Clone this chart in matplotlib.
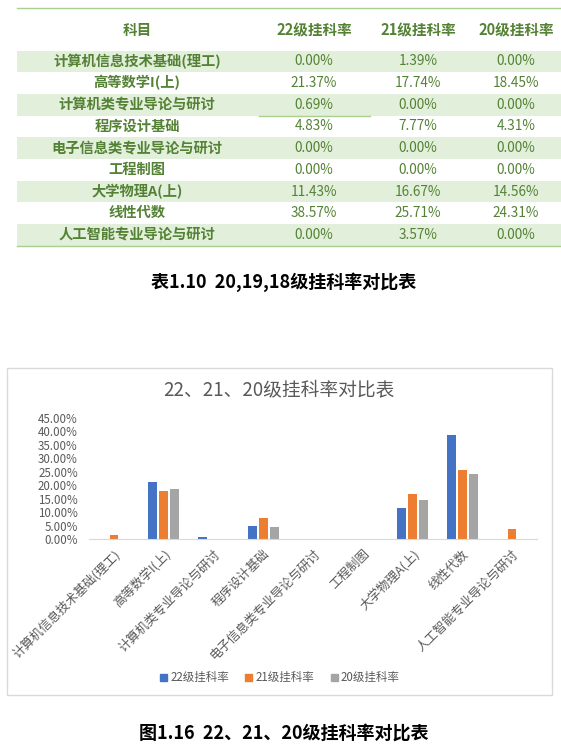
import numpy as np
import matplotlib
matplotlib.use('Agg')
import matplotlib.pyplot as plt
from matplotlib.patches import Rectangle, Patch

plt.rcParams['font.family'] = ['Noto Sans CJK SC', 'DejaVu Sans']

# data
subjects = ['计算机信息技术基础(理工)', '高等数学I(上)', '计算机类专业导论与研讨', '程序设计基础',
            '电子信息类专业导论与研讨', '工程制图', '大学物理A(上)', '线性代数', '人工智能专业导论与研讨']
rate22 = [0.00, 21.37, 0.69, 4.83, 0.00, 0.00, 11.43, 38.57, 0.00]
rate21 = [1.39, 17.74, 0.00, 7.77, 0.00, 0.00, 16.67, 25.71, 3.57]
rate20 = [0.00, 18.45, 0.00, 4.31, 0.00, 0.00, 14.56, 24.31, 0.00]
series_names = ['22级挂科率', '21级挂科率', '20级挂科率']
yticks = [0, 5, 10, 15, 20, 25, 30, 35, 40, 45]

W, H = 561, 751
fig = plt.figure(figsize=(W / 100, H / 100), dpi=100)

# overlay in pixel coordinates (y down)
bg = fig.add_axes([0, 0, 1, 1])
bg.set_xlim(0, W)
bg.set_ylim(H, 0)
bg.axis('off')

green = '#548235'
line_green = '#A9D08E'
band = '#E2EFDA'
col_x = [137, 314, 418, 516]
row_top = 50.5
row_h = 21.7

bg.plot([17, W], [8, 8], color=line_green, lw=1)
bg.text(col_x[0], 30, '科目', ha='center', va='center', fontsize=10.5, fontweight='bold', color=green)
for j, name in enumerate(series_names):
    bg.text(col_x[j + 1], 30, name, ha='center', va='center', fontsize=10.5, fontweight='bold', color=green)

for i, subj in enumerate(subjects):
    y0 = row_top + i * row_h
    if i % 2 == 0:
        bg.add_patch(Rectangle((17, y0), W - 17, row_h, color=band, lw=0))
    yc = y0 + row_h / 2
    bg.text(col_x[0], yc, subj, ha='center', va='center', fontsize=10.3, fontweight='bold', color=green)
    for j, vals in enumerate([rate22, rate21, rate20]):
        bg.text(col_x[j + 1], yc, '%.2f%%' % vals[i], ha='center', va='center', fontsize=9.8, color=green)
bg.plot([17, W], [row_top + 9 * row_h, row_top + 9 * row_h], color=line_green, lw=1)
bg.plot([259, 370], [row_top + 3 * row_h, row_top + 3 * row_h], color=line_green, lw=1)

bg.text(284, 282, '表1.10  20,19,18级挂科率对比表', ha='center', va='center', fontsize=13,
        fontweight='bold', color='black')

# chart frame
bg.add_patch(Rectangle((7, 368), 545, 327, fill=False, edgecolor='#D9D9D9', lw=1))
bg.text(279, 390, '22、21、20级挂科率对比表', ha='center', va='center', fontsize=13.5, color='#595959')

bg.text(284, 733, '图1.16  22、21、20级挂科率对比表', ha='center', va='center', fontsize=13,
        fontweight='bold', color='black')

# bar chart
left, right, top, base = 89, 537, 418, 539
ax = fig.add_axes([left / W, (H - base) / H, (right - left) / W, (base - top) / H])
x = np.arange(len(subjects))
w = 0.1745
stride = 0.2216
colors = ['#4472C4', '#ED7D31', '#A5A5A5']
for k, vals in enumerate([rate22, rate21, rate20]):
    ax.bar(x + (k - 1) * stride, vals, w, color=colors[k], label=series_names[k])
ax.set_xlim(-0.5, len(subjects) - 0.5)
ax.set_ylim(0, 45)
ax.set_yticks(yticks)
ax.set_yticklabels(['%.2f%%' % t for t in yticks])
ax.set_xticks(x)
ax.set_xticklabels(subjects, rotation=45, ha='right', rotation_mode='anchor')
ax.tick_params(axis='y', length=0, labelsize=8.3, colors='#595959', pad=8)
ax.tick_params(axis='x', length=0, labelsize=9, colors='#595959', pad=6)
for s in ['top', 'right', 'left']:
    ax.spines[s].set_visible(False)
ax.spines['bottom'].set_color('#D9D9D9')
ax.patch.set_alpha(0)

handles = [Patch(color=c) for c in colors]
fig.legend(handles, series_names, loc='center', bbox_to_anchor=(280 / W, (H - 678) / H), ncol=3,
           frameon=False, fontsize=8.3, labelcolor='#595959', handlelength=0.6, handleheight=0.6,
           handletextpad=0.3, columnspacing=1.4)

fig.savefig('out.png', dpi=100)
